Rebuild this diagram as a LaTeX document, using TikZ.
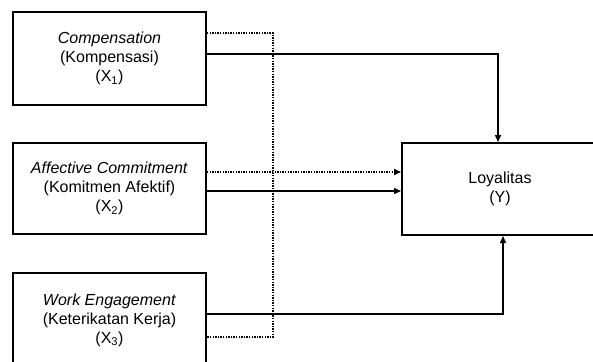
\documentclass[tikz,border=0pt]{standalone}
\usepackage{fontspec}
\setmainfont{Liberation Sans}
\usetikzlibrary{arrows.meta}
\begin{document}
\begin{tikzpicture}[x=1pt,y=1pt,
  box/.style={draw=black,line width=2pt,rectangle,align=center,
    font=\fontsize{16}{19}\selectfont,inner sep=0pt},
  conn/.style={line width=1.4pt},
  arr/.style={conn,-{Triangle[width=6pt,length=7pt]}},
  dots/.style={line width=1.6pt,dash pattern=on 1.4pt off 1.2pt}]
\useasboundingbox (0,0) rectangle (593,-361);
\node[box,minimum width=193pt,minimum height=93pt] (x1) at (109.5,-58.5)
  {\textit{Compensation}\\(Kompensasi)\\(X\textsubscript{1})};
\node[box,minimum width=193pt,minimum height=91pt] (x2) at (109.5,-188.5)
  {\textit{Affective Commitment}\\(Komitmen Afektif)\\(X\textsubscript{2})};
\node[box,minimum width=193pt,minimum height=94pt] (x3) at (109.5,-320)
  {\textit{Work Engagement}\\(Keterikatan Kerja)\\(X\textsubscript{3})};
\node[box,minimum width=196pt,minimum height=92pt] (y) at (500,-189)
  {Loyalitas\\(Y)};
\coordinate (dv) at (273,0);
\draw[dots] (x1.east |- 0,-33) -| (dv |- 0,-337) -- (x3.east |- 0,-337);
\draw[arr] (x1.east |- 0,-54) -| ([xshift=-2pt]y.north);
\draw[arr] (x3.east |- 0,-314) -| ([xshift=3pt]y.south);
\draw[arr,dots] (x2.east |- 0,-172) -- (y.west |- 0,-172);
\draw[arr] (x2.east |- 0,-191) -- (y.west |- 0,-191);
\end{tikzpicture}
\end{document}
